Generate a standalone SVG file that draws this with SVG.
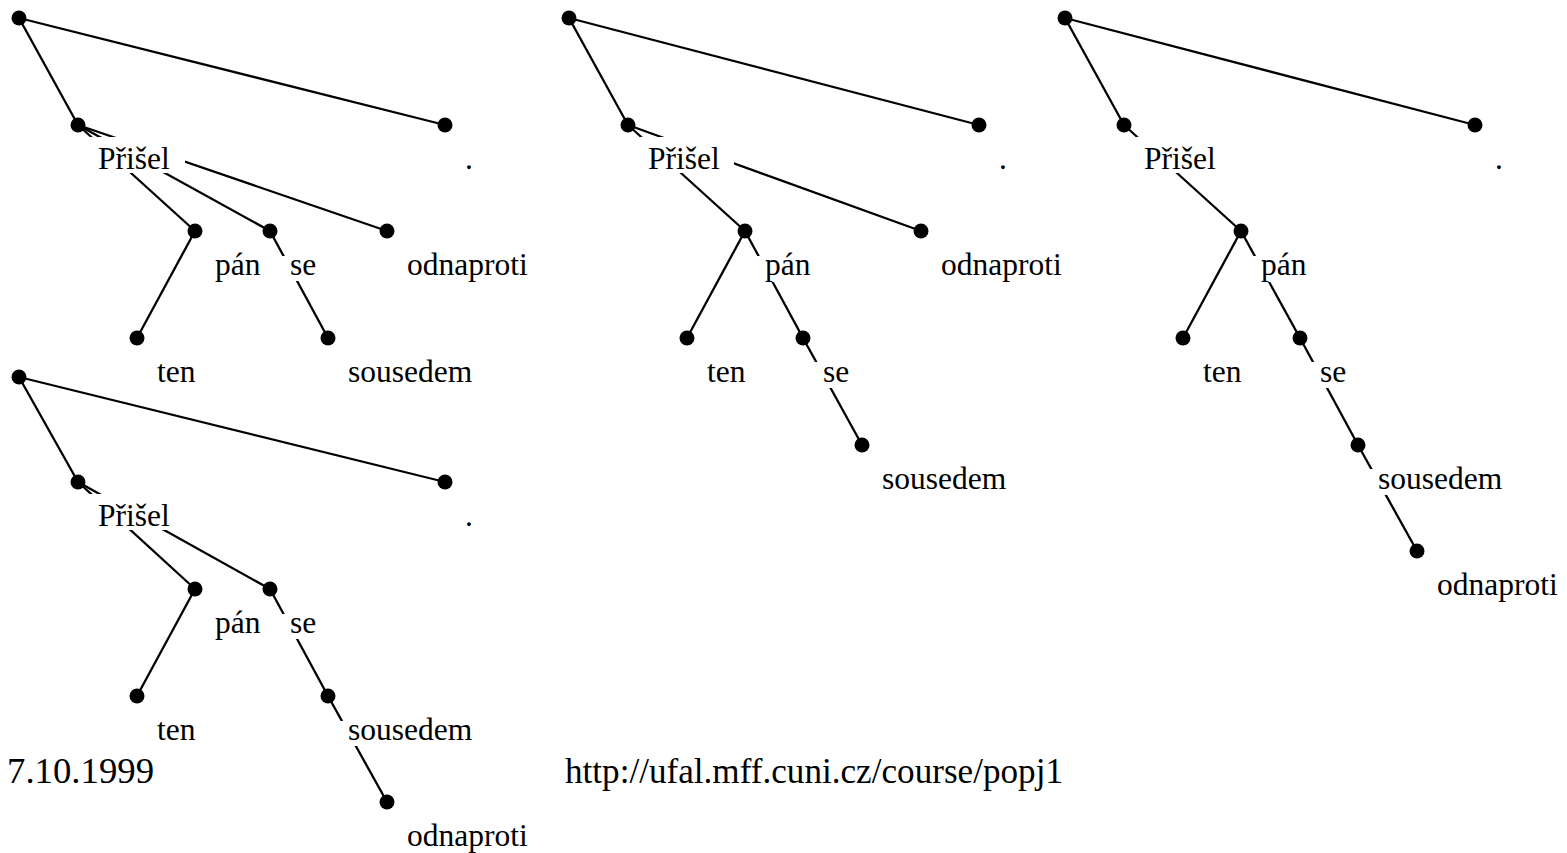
<svg xmlns="http://www.w3.org/2000/svg" width="1567" height="853" viewBox="0 0 1567 853">
<style>
.edge{stroke:#000;stroke-width:2.3;fill:none}
.dot{fill:#000}
.mask{fill:#fff}
.lbl{font-family:"Liberation Serif","Times New Roman",serif;font-size:31.5px;fill:#000}
.foot{font-family:"Liberation Serif","Times New Roman",serif;font-size:36px;fill:#000}
</style>
<rect width="1567" height="853" fill="#fff"/>
<g id="connectors">
<!-- tree 1 -->
<line class="edge" x1="19" y1="18" x2="78" y2="125"/>
<line class="edge" x1="19" y1="18" x2="445" y2="125"/>
<line class="edge" x1="78" y1="125" x2="195" y2="231"/>
<line class="edge" x1="78" y1="125" x2="270" y2="231"/>
<line class="edge" x1="78" y1="125" x2="387" y2="231"/>
<line class="edge" x1="195" y1="231" x2="137" y2="338"/>
<line class="edge" x1="270" y1="231" x2="328" y2="338"/>
<!-- tree 2 -->
<line class="edge" x1="569" y1="18" x2="628" y2="125"/>
<line class="edge" x1="569" y1="18" x2="979" y2="125"/>
<line class="edge" x1="628" y1="125" x2="745" y2="231"/>
<line class="edge" x1="628" y1="125" x2="921" y2="231"/>
<line class="edge" x1="745" y1="231" x2="687" y2="338"/>
<line class="edge" x1="745" y1="231" x2="803" y2="338"/>
<line class="edge" x1="803" y1="338" x2="862" y2="445"/>
<!-- tree 3 -->
<line class="edge" x1="1065" y1="18" x2="1124" y2="125"/>
<line class="edge" x1="1065" y1="18" x2="1475" y2="125"/>
<line class="edge" x1="1124" y1="125" x2="1241" y2="231"/>
<line class="edge" x1="1241" y1="231" x2="1183" y2="338"/>
<line class="edge" x1="1241" y1="231" x2="1300" y2="338"/>
<line class="edge" x1="1300" y1="338" x2="1358" y2="445"/>
<line class="edge" x1="1358" y1="445" x2="1417" y2="551"/>
<!-- tree 4 -->
<line class="edge" x1="19" y1="377" x2="78" y2="482"/>
<line class="edge" x1="19" y1="377" x2="445" y2="482"/>
<line class="edge" x1="78" y1="482" x2="195" y2="589"/>
<line class="edge" x1="78" y1="482" x2="270" y2="589"/>
<line class="edge" x1="195" y1="589" x2="137" y2="696"/>
<line class="edge" x1="270" y1="589" x2="328" y2="696"/>
<line class="edge" x1="328" y1="696" x2="387" y2="802"/>
</g>

<!-- tree 1 nodes -->
<g id="t1-root"><circle class="dot" cx="19" cy="18" r="7.5"/></g>
<g id="t1-prisel"><rect class="mask" x="88" y="137" width="97" height="36"/><text class="lbl" x="98" y="169">Přišel</text><circle class="dot" cx="78" cy="125" r="7.5"/></g>
<g id="t1-period"><text class="lbl" x="465" y="169">.</text><circle class="dot" cx="445" cy="125" r="7.5"/></g>
<g id="t1-pan"><text class="lbl" x="215" y="275">pán</text><circle class="dot" cx="195" cy="231" r="7.5"/></g>
<g id="t1-se"><rect class="mask" x="280" y="256" width="40" height="25"/><text class="lbl" x="290" y="275">se</text><circle class="dot" cx="270" cy="231" r="7.5"/></g>
<g id="t1-odnaproti"><text class="lbl" x="407" y="275">odnaproti</text><circle class="dot" cx="387" cy="231" r="7.5"/></g>
<g id="t1-ten"><text class="lbl" x="157" y="382">ten</text><circle class="dot" cx="137" cy="338" r="7.5"/></g>
<g id="t1-sousedem"><text class="lbl" x="348" y="382">sousedem</text><circle class="dot" cx="328" cy="338" r="7.5"/></g>

<!-- tree 2 nodes -->
<g id="t2-root"><circle class="dot" cx="569" cy="18" r="7.5"/></g>
<g id="t2-prisel"><rect class="mask" x="640" y="137" width="94" height="36"/><text class="lbl" x="648" y="169">Přišel</text><circle class="dot" cx="628" cy="125" r="7.5"/></g>
<g id="t2-period"><text class="lbl" x="999" y="169">.</text><circle class="dot" cx="979" cy="125" r="7.5"/></g>
<g id="t2-pan"><rect class="mask" x="752" y="256" width="64" height="26"/><text class="lbl" x="765" y="275">pán</text><circle class="dot" cx="745" cy="231" r="7.5"/></g>
<g id="t2-odnaproti"><text class="lbl" x="941" y="275">odnaproti</text><circle class="dot" cx="921" cy="231" r="7.5"/></g>
<g id="t2-ten"><text class="lbl" x="707" y="382">ten</text><circle class="dot" cx="687" cy="338" r="7.5"/></g>
<g id="t2-se"><rect class="mask" x="811" y="362" width="45" height="26"/><text class="lbl" x="823" y="382">se</text><circle class="dot" cx="803" cy="338" r="7.5"/></g>
<g id="t2-sousedem"><text class="lbl" x="882" y="489">sousedem</text><circle class="dot" cx="862" cy="445" r="7.5"/></g>

<!-- tree 3 nodes -->
<g id="t3-root"><circle class="dot" cx="1065" cy="18" r="7.5"/></g>
<g id="t3-prisel"><rect class="mask" x="1133" y="137" width="96" height="36"/><text class="lbl" x="1144" y="169">Přišel</text><circle class="dot" cx="1124" cy="125" r="7.5"/></g>
<g id="t3-period"><text class="lbl" x="1495" y="169">.</text><circle class="dot" cx="1475" cy="125" r="7.5"/></g>
<g id="t3-pan"><rect class="mask" x="1249" y="256" width="62" height="26"/><text class="lbl" x="1261" y="275">pán</text><circle class="dot" cx="1241" cy="231" r="7.5"/></g>
<g id="t3-ten"><text class="lbl" x="1203" y="382">ten</text><circle class="dot" cx="1183" cy="338" r="7.5"/></g>
<g id="t3-se"><rect class="mask" x="1308" y="362" width="45" height="26"/><text class="lbl" x="1320" y="382">se</text><circle class="dot" cx="1300" cy="338" r="7.5"/></g>
<g id="t3-sousedem"><rect class="mask" x="1366" y="469" width="135" height="26"/><text class="lbl" x="1378" y="489">sousedem</text><circle class="dot" cx="1358" cy="445" r="7.5"/></g>
<g id="t3-odnaproti"><text class="lbl" x="1437" y="595">odnaproti</text><circle class="dot" cx="1417" cy="551" r="7.5"/></g>

<!-- tree 4 nodes -->
<g id="t4-root"><circle class="dot" cx="19" cy="377" r="7.5"/></g>
<g id="t4-prisel"><rect class="mask" x="88" y="494" width="97" height="36"/><text class="lbl" x="98" y="526">Přišel</text><circle class="dot" cx="78" cy="482" r="7.5"/></g>
<g id="t4-period"><text class="lbl" x="465" y="526">.</text><circle class="dot" cx="445" cy="482" r="7.5"/></g>
<g id="t4-pan"><text class="lbl" x="215" y="633">pán</text><circle class="dot" cx="195" cy="589" r="7.5"/></g>
<g id="t4-se"><rect class="mask" x="280" y="614" width="40" height="25"/><text class="lbl" x="290" y="633">se</text><circle class="dot" cx="270" cy="589" r="7.5"/></g>
<g id="t4-ten"><text class="lbl" x="157" y="740">ten</text><circle class="dot" cx="137" cy="696" r="7.5"/></g>
<g id="t4-sousedem"><rect class="mask" x="338" y="721" width="138" height="25"/><text class="lbl" x="348" y="740">sousedem</text><circle class="dot" cx="328" cy="696" r="7.5"/></g>
<g id="t4-odnaproti"><text class="lbl" x="407" y="846">odnaproti</text><circle class="dot" cx="387" cy="802" r="7.5"/></g>

<g id="footer">
<text class="foot" x="7" y="783" textLength="147" lengthAdjust="spacingAndGlyphs">7.10.1999</text>
<text class="foot" x="565" y="783" textLength="498" lengthAdjust="spacingAndGlyphs">http://ufal.mff.cuni.cz/course/popj1</text>
</g>
</svg>
